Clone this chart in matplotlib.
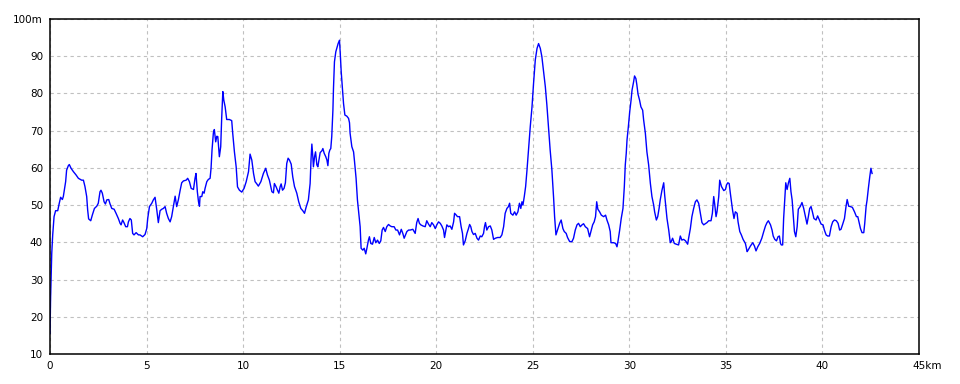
import matplotlib
matplotlib.use('Agg')
import matplotlib.pyplot as plt

# distance (km) and elevation (m)
km = [0.00, 0.03, 0.09, 0.14, 0.21, 0.29, 0.40, 0.48, 0.55, 0.64, 0.69, 0.74, 0.81, 0.86, 0.95,
      1.00, 1.09, 1.21, 1.35, 1.47, 1.64, 1.73, 1.81, 1.90, 1.95, 2.00, 2.11, 2.19, 2.30, 2.42,
      2.50, 2.59, 2.64, 2.71, 2.80, 2.87, 2.94, 3.04, 3.11, 3.20, 3.32, 3.42, 3.54, 3.63, 3.68,
      3.76, 3.83, 3.92, 4.01, 4.06, 4.14, 4.21, 4.28, 4.35, 4.46, 4.58, 4.66, 4.80, 4.92, 5.01,
      5.06, 5.15, 5.27, 5.35, 5.44, 5.53, 5.61, 5.70, 5.79, 5.87, 5.96, 6.04, 6.13, 6.22, 6.30,
      6.39, 6.48, 6.56, 6.65, 6.74, 6.82, 6.91, 7.05, 7.13, 7.22, 7.31, 7.43, 7.51, 7.56, 7.63,
      7.69, 7.74, 7.77, 7.86, 7.91, 7.98, 8.03, 8.12, 8.20, 8.29, 8.34, 8.39, 8.46, 8.51, 8.58,
      8.64, 8.69, 8.77, 8.84, 8.89, 8.95, 9.00, 9.07, 9.15, 9.29, 9.41, 9.46, 9.55, 9.64, 9.71,
      9.81, 9.93, 10.05, 10.16, 10.28, 10.36, 10.45, 10.54, 10.62, 10.71, 10.79, 10.92, 11.05,
      11.17, 11.26, 11.36, 11.49, 11.57, 11.62, 11.71, 11.78, 11.85, 11.92, 11.97, 12.04, 12.12,
      12.19, 12.26, 12.33, 12.40, 12.49, 12.57, 12.66, 12.78, 12.88, 12.99, 13.09, 13.18, 13.26,
      13.38, 13.47, 13.52, 13.56, 13.61, 13.64, 13.70, 13.75, 13.82, 13.87, 13.94, 13.99, 14.08,
      14.13, 14.20, 14.28, 14.34, 14.39, 14.44, 14.49,
      14.54, 14.59, 14.65, 14.68, 14.73, 14.80, 14.85, 14.92, 14.99, 15.03, 15.08, 15.15, 15.20,
      15.27, 15.37, 15.46, 15.51, 15.54, 15.63, 15.72, 15.77, 15.85, 15.92, 15.99, 16.06, 16.11,
      16.20, 16.27, 16.35, 16.41, 16.49, 16.54, 16.61, 16.70, 16.79, 16.87, 16.96, 17.05, 17.13,
      17.20, 17.27, 17.36, 17.44, 17.53, 17.62, 17.70, 17.82, 17.91, 18.00, 18.10, 18.19, 18.27,
      18.34, 18.41, 18.48, 18.57, 18.65, 18.79, 18.91, 18.99, 19.06, 19.13, 19.20, 19.31, 19.43,
      19.51, 19.60, 19.69, 19.77, 19.86, 19.95, 20.03, 20.12, 20.21, 20.29, 20.38, 20.43, 20.50,
      20.55, 20.64, 20.72, 20.81, 20.90, 20.95, 21.04, 21.10, 21.21, 21.29, 21.36, 21.41, 21.50,
      21.59, 21.67, 21.73, 21.79, 21.85, 21.93, 22.02, 22.11, 22.19, 22.28, 22.36, 22.45, 22.50,
      22.55, 22.62, 22.71, 22.80, 22.88, 22.97, 23.06, 23.18, 23.31, 23.40, 23.49, 23.57, 23.66,
      23.74, 23.80, 23.86, 23.97, 24.06, 24.14, 24.23, 24.31, 24.38, 24.44, 24.49, 24.56, 24.63,
      24.70, 24.78, 24.87, 24.96, 25.04, 25.13, 25.22, 25.30, 25.39, 25.47, 25.56, 25.65, 25.73,
      25.82, 25.90, 25.99, 26.08, 26.13, 26.20, 26.28, 26.39, 26.47, 26.56, 26.63, 26.73, 26.80,
      26.91, 27.03, 27.11, 27.20, 27.29, 27.37, 27.46, 27.55, 27.63, 27.72, 27.84, 27.94, 28.01,
      28.10, 28.18, 28.25, 28.31, 28.37, 28.46, 28.55, 28.67, 28.77, 28.84, 28.93, 29.01, 29.05,
      29.19, 29.29, 29.36, 29.41, 29.50, 29.58, 29.67,
      29.74, 29.79, 29.84, 29.88, 29.95, 30.02, 30.09, 30.14, 30.22, 30.27, 30.34, 30.39, 30.45,
      30.53, 30.60, 30.69, 30.74, 30.83, 30.91, 31.00, 31.09, 31.17, 31.26, 31.31, 31.40, 31.47,
      31.54, 31.60, 31.69, 31.78, 31.83, 31.90, 31.95, 32.04, 32.12, 32.17, 32.24, 32.33, 32.43,
      32.55, 32.64, 32.72, 32.81, 32.91, 33.02, 33.07, 33.16, 33.24, 33.33, 33.42, 33.50, 33.59,
      33.68, 33.76, 33.85, 33.94, 34.02, 34.11, 34.23, 34.30, 34.37, 34.42, 34.49, 34.54, 34.63,
      34.68, 34.77, 34.89, 34.98, 35.03, 35.10, 35.17, 35.23, 35.29, 35.35, 35.42, 35.49, 35.58,
      35.63, 35.72, 35.80, 35.89, 36.01, 36.10, 36.15, 36.27, 36.39, 36.48, 36.56, 36.65, 36.75,
      36.86, 36.96, 37.05, 37.13, 37.20, 37.31, 37.39, 37.45, 37.53, 37.62, 37.70, 37.77, 37.83,
      37.87, 37.94, 37.99, 38.05, 38.10, 38.17, 38.24, 38.31, 38.37, 38.43, 38.48, 38.55, 38.62,
      38.69, 38.75, 38.86, 38.94, 39.03, 39.11, 39.20, 39.27, 39.34, 39.41, 39.48, 39.56, 39.67,
      39.75, 39.84, 39.93, 40.03, 40.10, 40.19, 40.27, 40.36, 40.45, 40.53, 40.62, 40.72, 40.81,
      40.89, 40.96, 41.05, 41.14, 41.22, 41.28, 41.36, 41.45, 41.55, 41.66, 41.76, 41.83, 41.90,
      41.97, 42.05, 42.14, 42.19, 42.26, 42.31, 42.38, 42.45, 42.51, 42.57]

elev = [15.5, 24.9, 37.0, 42.0, 46.9, 48.5, 48.5, 50.5, 52.1, 51.5, 52.3, 54.0, 56.3, 59.4, 60.6,
        60.9, 59.9, 59.0, 58.1, 57.2, 56.7, 56.7, 55.0, 52.3, 48.7, 46.3, 45.8, 47.3, 49.1, 49.7,
        50.5, 53.6, 54.0, 53.2, 50.9, 50.3, 51.4, 51.5, 50.3, 49.1, 48.9, 47.8, 46.4, 45.1, 44.7,
        46.0, 45.3, 44.2, 44.2, 45.5, 46.4, 46.0, 42.4, 42.0, 42.6, 42.0, 42.0, 41.5, 42.1, 43.7,
        46.4, 49.6, 50.5, 51.4, 52.1, 48.7, 45.3, 48.5, 48.9, 49.1, 49.6, 47.8, 46.4, 45.5, 46.9,
        49.6, 52.4, 49.6, 51.5, 54.0, 56.0, 56.5, 56.7, 57.2, 56.3, 54.5, 54.2, 57.2, 58.5, 53.6,
        50.9, 49.7, 52.3, 52.3, 53.6, 53.2, 54.5, 56.3, 56.9, 57.2, 59.9, 64.8, 69.4, 70.3, 67.0,
        68.5, 68.4, 63.0, 65.7, 73.3, 80.5, 78.2, 76.4, 73.0, 73.0, 72.7, 69.4, 64.3, 60.3, 54.9,
        54.0, 53.5, 54.5, 56.3, 59.0, 63.7, 62.1, 58.5, 56.3, 55.7, 55.1, 56.3, 58.5,
        59.9, 58.1, 56.7, 53.6, 53.3, 55.8, 54.9, 54.0, 53.2, 55.0, 55.7, 54.0, 54.5,
        56.0, 61.2, 62.6, 62.1, 61.0, 57.6, 55.0, 53.2, 50.9, 49.1, 48.5, 47.8, 49.4,
        51.4, 55.8, 62.6, 66.4, 63.0, 60.3, 63.0, 64.3, 60.8, 60.3, 62.6, 64.1, 64.6,
        65.2, 63.9, 63.0, 62.1, 60.6, 63.9, 64.8,
        65.2, 68.4, 75.5, 81.4, 88.5, 91.2, 92.1, 93.4, 94.3, 90.8, 85.8, 80.9, 77.3,
        74.2, 73.9, 73.3, 72.1, 69.3, 65.7, 64.3, 61.7, 57.2, 51.4, 47.8, 44.2, 38.4,
        37.9, 38.4, 36.9, 38.4, 40.6, 41.5, 39.7, 39.5, 41.3, 39.9, 40.6, 39.7, 40.4,
        43.3, 44.0, 42.9, 44.2, 44.8, 44.4, 44.2, 44.2, 43.3, 43.3, 42.0, 43.5, 42.4,
        41.1, 42.0, 42.9, 43.3, 43.3, 43.5, 42.4, 45.3, 46.4, 45.1, 44.7, 44.4, 44.2,
        45.8, 44.9, 44.2, 45.3, 44.7, 43.7, 44.7, 45.5, 45.1, 44.4, 43.3, 41.3, 43.3,
        44.7, 44.2, 44.4, 43.5, 45.5, 47.8, 47.3, 46.9, 46.9, 44.2, 42.4, 39.3, 40.4,
        42.4, 43.7, 44.8, 44.2, 42.9, 42.1, 42.4, 41.1, 40.6, 41.7, 41.5, 42.4, 44.2,
        45.3, 43.3, 44.2, 44.4, 43.3, 40.8, 41.1, 41.3, 41.3, 42.0, 44.2, 47.8, 49.1,
        49.6, 50.5, 47.8, 47.3, 48.2, 47.3, 48.2, 50.5, 49.1, 50.9, 50.0, 52.3, 55.0,
        59.4, 64.8, 71.1, 76.4, 82.7, 89.0, 92.1, 93.4, 92.1, 89.9, 85.8, 81.8, 76.9,
        70.6, 64.8, 59.4, 51.8, 46.9, 42.0, 43.3, 45.1, 46.0, 43.7, 42.9, 42.4, 41.3,
        40.2, 40.2, 41.1, 43.3, 44.7, 45.1, 44.2, 44.7, 45.0, 44.2, 43.7, 41.5, 42.9,
        44.7, 45.5, 46.9, 50.9, 48.9, 48.2, 47.3, 46.9, 47.3, 46.0, 44.7, 42.9, 39.9,
        39.9, 39.7, 38.8, 40.2, 43.3, 46.4, 49.1,
        54.9, 60.8, 63.9, 67.5, 71.1, 75.1, 78.2, 80.9, 83.1, 84.7, 84.0, 82.3, 79.8,
        78.2, 76.4, 75.5, 72.9, 69.3, 64.3, 60.8, 55.8, 52.3, 50.0, 48.2, 46.0, 46.9,
        49.1, 51.4, 54.0, 56.0, 52.7, 49.1, 46.4, 43.3, 39.9, 40.2, 41.1, 39.7, 39.5,
        39.3, 41.7, 40.6, 40.8, 40.4, 39.5, 41.1, 43.7, 46.9, 49.1, 50.9, 51.4, 50.5,
        47.8, 45.3, 44.7, 45.0, 45.3, 45.8, 45.8, 47.8, 52.3, 50.3, 46.9, 48.2, 52.3,
        56.7, 55.0, 53.9, 54.2, 55.4, 56.0, 55.8, 53.2, 50.9, 48.5, 46.4, 48.2, 47.8,
        45.5, 42.9, 42.0, 40.8, 39.7, 37.5, 37.9, 39.0, 39.9, 39.0, 37.7, 38.8, 39.7,
        41.1, 42.9, 44.4, 45.3, 45.8, 44.7, 43.3, 41.7, 40.8, 40.4, 41.5, 41.7, 39.7,
        39.3, 39.3, 46.4, 51.4, 56.0, 54.2, 56.0, 57.2, 53.6, 51.4, 47.8, 42.9, 41.5,
        44.2, 48.9, 49.7, 50.7, 49.1, 47.1, 44.9, 46.9, 49.1, 49.6, 48.2, 46.4, 46.0,
        47.1, 46.0, 44.9, 44.7, 43.3, 42.0, 41.7, 41.7, 44.2, 45.5, 46.0, 45.8, 45.1,
        43.3, 43.5, 44.9, 46.4, 49.6, 51.5, 49.7, 49.6, 49.4, 48.2, 46.9, 46.9, 45.3,
        43.7, 42.6, 42.6, 45.1, 49.6, 51.3, 54.6, 57.6, 59.9, 58.5]

x_ticks = [0, 5, 10, 15, 20, 25, 30, 35, 40, 45]
x_labels = ['0', '5', '10', '15', '20', '25', '30', '35', '40', '']
x_unit_label = '45km'
y_ticks = [10, 20, 30, 40, 50, 60, 70, 80, 90, 100]
y_labels = ['10', '20', '30', '40', '50', '60', '70', '80', '90', '100m']

fig = plt.figure(figsize=(9.6, 3.84), dpi=100)
ax = fig.add_axes([50 / 960, 30 / 384, 869 / 960, 335 / 384])

ax.plot(km, elev, color='#0000ff', lw=1.0)

ax.set_xlim(0, 45)
ax.set_ylim(10, 100)
ax.set_xticks(x_ticks)
ax.set_xticklabels(x_labels, fontsize=7.5)
ax.set_yticks(y_ticks)
ax.set_yticklabels(y_labels, fontsize=7.5)
ax.tick_params(length=0, pad=5)
# '45km' sits with its number on the tick, unit trailing
ax.annotate(x_unit_label, (x_ticks[-1], 10), xytext=(-4.5, -5), textcoords='offset points',
            ha='left', va='top', fontsize=7.5, annotation_clip=False)
ax.grid(True, color='#c0c0c0', ls=(0, (3, 3)), lw=0.8)
ax.set_axisbelow(True)
for s in ax.spines.values():
    s.set_color('black'); s.set_linewidth(1.1)

fig.savefig('out.png', dpi=100)
